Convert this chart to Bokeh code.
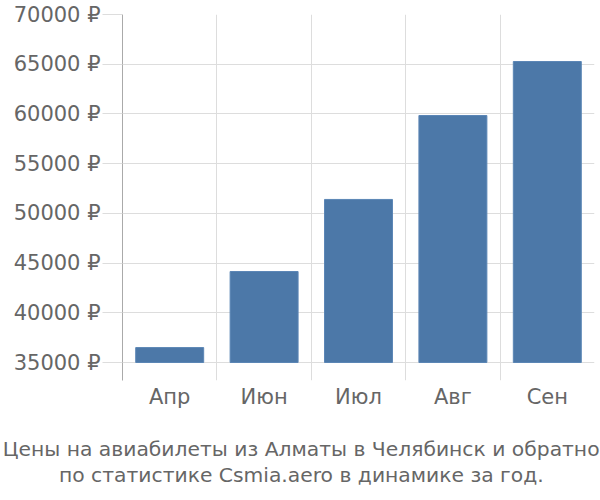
from bokeh.plotting import figure
from bokeh.models import Range1d, FixedTicker, Title, ColumnDataSource
from bokeh.embed import file_html
from bokeh.resources import INLINE

months = ["Апр", "Июн", "Июл", "Авг", "Сен"]
prices = [36500, 44150, 51400, 59840, 65270]
y_ticks = [35000, 40000, 45000, 50000, 55000, 60000, 65000, 70000]
title_lines = ["Цены на авиабилеты из Алматы в Челябинск и обратно",
               "по статистике Csmia.aero в динамике за год."]

baseline = 35000
xs = [i + 0.5 for i in range(len(months))]
src = ColumnDataSource(dict(x=xs, top=prices, bottom=[baseline] * len(prices)))

p = figure(width=600, height=500, output_backend="svg", toolbar_location=None,
           x_range=Range1d(0, len(months)), y_range=Range1d(33190, 70000),
           min_border_left=122, min_border_right=6, min_border_top=14,
           min_border_bottom=120, outline_line_color=None)

p.vbar(x="x", top="top", bottom="bottom", width=0.72, source=src,
       fill_color="#4C78A8", line_color="#5b86b5", line_width=1)

FONT = "DejaVu Sans"
GRAY = "#666666"
GRID = "#dddddd"

# y axis
ya = p.yaxis[0]
ya.ticker = FixedTicker(ticks=y_ticks)
ya.major_label_overrides = {v: f"{v} ₽" for v in y_ticks}
ya.axis_line_color = "#aaaaaa"
ya.major_tick_line_color = GRID
ya.major_tick_out = 20
ya.major_tick_in = 0
ya.minor_tick_line_color = None
ya.major_label_text_font = FONT
ya.major_label_text_font_size = "21px"
ya.major_label_text_color = GRAY
ya.major_label_standoff = 2

# x axis
xa = p.xaxis[0]
xa.ticker = FixedTicker(ticks=xs)
xa.major_label_overrides = {x: m for x, m in zip(xs, months)}
xa.axis_line_color = None
xa.major_tick_line_color = None
xa.minor_tick_line_color = None
xa.major_label_text_font = FONT
xa.major_label_text_font_size = "21px"
xa.major_label_text_color = GRAY
xa.major_label_standoff = -2

p.xgrid[0].ticker = FixedTicker(ticks=list(range(1, len(months) + 1)))
p.xgrid[0].grid_line_color = GRID
p.ygrid[0].ticker = FixedTicker(ticks=y_ticks)
p.ygrid[0].grid_line_color = GRID

# blank spacer between the month labels and the caption
p.add_layout(Title(text=" ", standoff=20, text_font_size="1px"), "below")

# caption lines, left-aligned with offsets so they sit centred on the canvas
offsets = [-119.75, -63.5]
for line, off in zip(title_lines, offsets):
    p.add_layout(Title(text=line, align="left", offset=off, standoff=0,
                       text_font=FONT, text_font_size="20.3px",
                       text_font_style="normal", text_color=GRAY), "below")

open("out.html", "w").write(file_html(p, INLINE))
